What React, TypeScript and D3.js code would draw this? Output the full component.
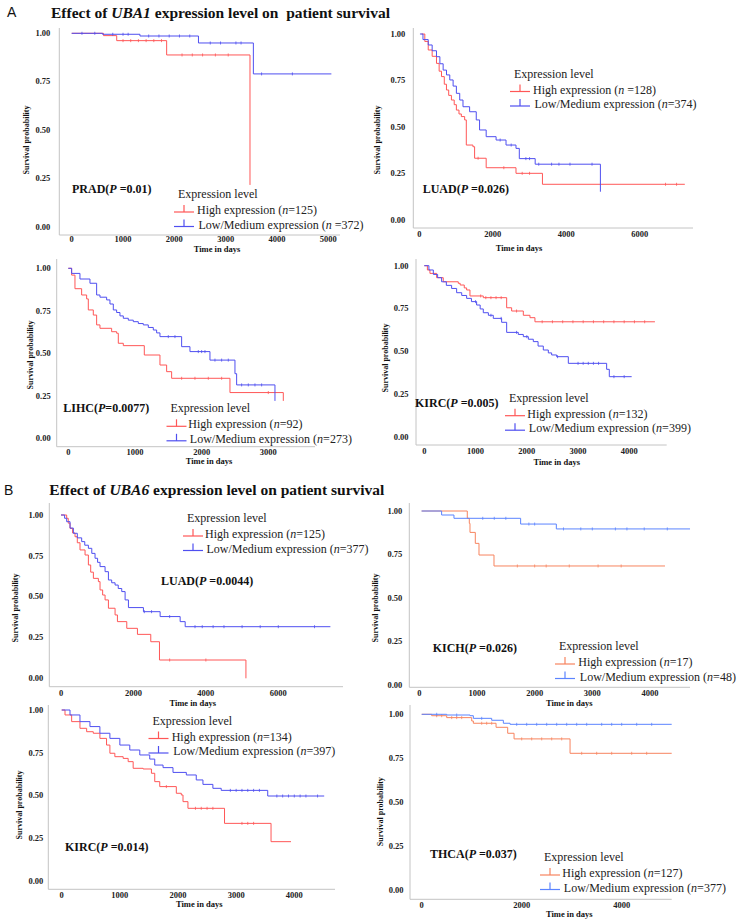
import React from "react";
import * as d3 from "d3";

type Pt = [number, number]; // [days, survival probability after the step]

// ---------- UBA1 ----------
const PRAD_HIGH: Pt[] = [[0, 1], [620, 0.988], [877, 0.962], [1850, 0.888], [3474, 0.216]];
const PRAD_LOW: Pt[] = [[0, 1], [600, 0.995], [1330, 0.986], [2470, 0.95], [3540, 0.79], [5060, 0.79]];
const PRAD_HIGH_CENS = [1000, 1150, 1300, 1450, 1600, 1750, 2150, 2350, 2550, 2800, 3050];
const PRAD_LOW_CENS = [200, 450, 800, 1000, 1100, 1500, 1700, 1900, 2100, 2300, 2700, 2900, 3200, 3300, 3700, 4300];

const LUAD1_HIGH: Pt[] = [[60, 1], [150, 0.96], [243, 0.914], [350, 0.88], [468, 0.842], [540, 0.8], [604, 0.771], [680, 0.73], [739, 0.699], [800, 0.67], [874, 0.645], [950, 0.62], [1009, 0.591], [1080, 0.57], [1144, 0.556], [1234, 0.538], [1279, 0.403], [1459, 0.394], [1505, 0.332], [1820, 0.281], [2631, 0.251], [3351, 0.192], [7225, 0.192]];
const LUAD1_LOW: Pt[] = [[18, 1], [100, 0.97], [243, 0.941], [350, 0.91], [468, 0.878], [560, 0.84], [649, 0.806], [740, 0.78], [829, 0.753], [920, 0.72], [1009, 0.681], [1100, 0.645], [1189, 0.609], [1369, 0.582], [1550, 0.538], [1640, 0.484], [1820, 0.448], [2090, 0.43], [2360, 0.403], [2631, 0.385], [2721, 0.33], [3153, 0.3], [4928, 0.152]];
const LUAD1_HIGH_CENS = [1600, 2300, 2800, 3000, 6700, 7000];
const LUAD1_LOW_CENS = [2200, 2500, 2900, 3000, 3250, 3600, 3800, 4100, 4700];

const LIHC_HIGH: Pt[] = [[0, 1], [50, 0.96], [100, 0.88], [200, 0.843], [275, 0.82], [300, 0.755], [375, 0.725], [425, 0.667], [475, 0.647], [650, 0.627], [725, 0.618], [750, 0.559], [825, 0.545], [1140, 0.49], [1375, 0.431], [1475, 0.392], [1550, 0.353], [2425, 0.269], [3225, 0.22]];
const LIHC_LOW: Pt[] = [[0, 1], [50, 0.97], [175, 0.937], [325, 0.912], [425, 0.843], [475, 0.83], [575, 0.814], [625, 0.79], [675, 0.755], [725, 0.74], [775, 0.72], [825, 0.706], [900, 0.695], [975, 0.686], [1050, 0.675], [1125, 0.667], [1200, 0.652], [1275, 0.637], [1325, 0.62], [1375, 0.598], [1700, 0.539], [1825, 0.51], [2125, 0.46], [2500, 0.38], [2525, 0.314], [3100, 0.22]];
const LIHC_HIGH_CENS = [1700, 1900, 2100, 2300, 3000];
const LIHC_LOW_CENS = [1500, 1600, 1950, 2000, 2050, 2200, 2300, 2400, 2600, 2700, 2800, 2900];

const KIRC1_HIGH: Pt[] = [[0, 1], [60, 0.975], [110, 0.955], [240, 0.93], [370, 0.906], [663, 0.897], [700, 0.887], [780, 0.87], [826, 0.858], [891, 0.823], [1151, 0.813], [1607, 0.754], [1704, 0.735], [1932, 0.71], [2062, 0.696], [2159, 0.672], [4500, 0.672]];
const KIRC1_LOW: Pt[] = [[0, 1], [90, 0.975], [176, 0.949], [260, 0.93], [338, 0.906], [430, 0.885], [533, 0.867], [631, 0.842], [730, 0.826], [826, 0.809], [920, 0.79], [1021, 0.77], [1090, 0.747], [1151, 0.725], [1250, 0.71], [1346, 0.692], [1509, 0.669], [1607, 0.61], [1834, 0.598], [1932, 0.585], [2030, 0.57], [2127, 0.556], [2220, 0.53], [2322, 0.507], [2420, 0.49], [2485, 0.478], [2582, 0.468], [2810, 0.429], [3558, 0.394], [3610, 0.351], [4046, 0.351]];
const KIRC1_HIGH_CENS = [1100, 1200, 1300, 1400, 1500, 1800, 2300, 2500, 2700, 2900, 3100, 3300, 3500, 3700, 3900, 4100, 4300];
const KIRC1_LOW_CENS = [1000, 1300, 1500, 1800, 2000, 2600, 3000, 3100, 3200, 3300, 3400, 3700, 3900];

// ---------- UBA6 ----------
const LUAD6_HIGH: Pt[] = [[0, 1], [157, 0.98], [200, 0.95], [249, 0.918], [320, 0.89], [387, 0.867], [450, 0.83], [525, 0.786], [664, 0.755], [756, 0.694], [820, 0.65], [894, 0.612], [1032, 0.592], [1078, 0.541], [1150, 0.51], [1217, 0.48], [1309, 0.429], [1493, 0.388], [1558, 0.347], [1816, 0.306], [2111, 0.269], [2479, 0.224], [2719, 0.112], [5106, 0]];
const LUAD6_LOW: Pt[] = [[0, 1], [100, 0.98], [157, 0.959], [250, 0.92], [341, 0.888], [450, 0.86], [571, 0.837], [656, 0.815], [756, 0.796], [850, 0.765], [940, 0.735], [1010, 0.71], [1078, 0.684], [1217, 0.653], [1309, 0.602], [1400, 0.585], [1493, 0.571], [1580, 0.55], [1677, 0.531], [1770, 0.48], [1862, 0.433], [2276, 0.408], [2737, 0.378], [3290, 0.347], [3429, 0.316], [7438, 0.316]];
const LUAD6_HIGH_CENS = [3000, 4000];
const LUAD6_LOW_CENS = [2300, 2500, 3000, 3700, 3900, 4200, 4500, 5000, 5500, 6000, 7000];

const KICH_HIGH: Pt[] = [[40, 1], [832, 0.958], [867, 0.929], [879, 0.877], [971, 0.814], [1035, 0.747], [1295, 0.684], [4260, 0.684]];
const KICH_LOW: Pt[] = [[40, 1], [387, 0.977], [601, 0.958], [1757, 0.925], [2376, 0.897], [4694, 0.897]];
const KICH_HIGH_CENS = [1700, 2000, 2200, 2600, 3100, 3500];
const KICH_LOW_CENS = [1100, 1300, 1500, 1900, 2000, 2500, 2800, 3000, 3400, 3600, 3900, 4300];

const KIRC6_HIGH: Pt[] = [[0, 1], [57, 0.971], [171, 0.932], [314, 0.893], [429, 0.873], [543, 0.864], [657, 0.834], [771, 0.795], [829, 0.747], [914, 0.727], [1057, 0.717], [1143, 0.698], [1229, 0.659], [1400, 0.655], [1543, 0.63], [1600, 0.581], [1686, 0.552], [1971, 0.513], [2057, 0.503], [2086, 0.464], [2171, 0.425], [2800, 0.337], [3600, 0.23], [3943, 0.23]];
const KIRC6_LOW: Pt[] = [[0, 1], [143, 0.971], [314, 0.932], [486, 0.903], [657, 0.864], [829, 0.834], [1000, 0.795], [1171, 0.766], [1343, 0.737], [1514, 0.713], [1600, 0.678], [1743, 0.663], [1914, 0.635], [2143, 0.62], [2314, 0.591], [2429, 0.565], [2600, 0.542], [2743, 0.53], [3543, 0.497], [4514, 0.497]];
const KIRC6_HIGH_CENS = [1800, 2300, 2400, 2500, 2600, 3100, 3200, 3300];
const KIRC6_LOW_CENS = [2900, 3000, 3100, 3200, 3300, 3400, 3700, 3800, 3900, 4000, 4100, 4200, 4400];

const THCA_HIGH: Pt[] = [[0, 1], [200, 0.992], [500, 0.981], [1000, 0.962], [1033, 0.949], [1487, 0.926], [1720, 0.892], [1847, 0.86], [2967, 0.778], [5000, 0.778]];
const THCA_LOW: Pt[] = [[0, 1], [500, 0.996], [967, 0.992], [1033, 0.977], [1400, 0.966], [1633, 0.949], [1767, 0.943], [5000, 0.943]];
const THCA_HIGH_CENS = [300, 400, 600, 700, 800, 1200, 1300, 1400, 2000, 2200, 2400, 2600, 2800, 3200, 3500, 3800, 4200, 4500];
const THCA_LOW_CENS = [300, 700, 1200, 1900, 2100, 2300, 2500, 2700, 2900, 3100, 3300, 3600, 3800, 4000, 4300, 4600];

const Y_TICKS = [0, 0.25, 0.5, 0.75, 1];

const SERIF = '"Liberation Serif", "Times New Roman", serif';
const SANS = '"Liberation Sans", Arial, sans-serif';
const RED_A = "#ff5757";
const BLUE_A = "#4f4ff0";
const RED_B = "#f7845f";
const BLUE_B = "#5b84ff";
const AXIS = "#c4c4c4";

interface PanelCfg {
  name: string; pRest: string;
  high: Pt[]; low: Pt[]; highCens: number[]; lowCens: number[];
  nHigh: string; nLow: string; xTicks: number[];
  red: string; blue: string;
  // layout (pixels)
  ax: number; ay: number; ar: number; at: number;
  px0: number; pxMax: number; py0: number; py1: number;
  tickGap: number; tickY: number; titleY: number; titleX: number; ylabX: number; ylabY: number;
  legX: number; legY: number; legTextX: number; pX: number; pY: number;
}

const panels: PanelCfg[] = [
  { name: "PRAD", pRest: " =0.01", high: PRAD_HIGH, low: PRAD_LOW, highCens: PRAD_HIGH_CENS, lowCens: PRAD_LOW_CENS,
    nHigh: "=125", nLow: " =372", xTicks: [0, 1000, 2000, 3000, 4000, 5000], red: RED_A, blue: BLUE_A,
    ax: 59.3, ay: 235, ar: 340, at: 28, px0: 71.7, pxMax: 328.3, py0: 226.7, py1: 33.3,
    tickGap: 9, tickY: 242.3, titleY: 252, titleX: 217, ylabX: 29, ylabY: 140,
    legX: 174, legY: 198, legTextX: 197, pX: 72, pY: 193 },
  { name: "LUAD", pRest: " =0.026", high: LUAD1_HIGH, low: LUAD1_LOW, highCens: LUAD1_HIGH_CENS, lowCens: LUAD1_LOW_CENS,
    nHigh: " =128", nLow: "=374", xTicks: [0, 2000, 4000, 6000], red: RED_A, blue: BLUE_A,
    ax: 413.3, ay: 228, ar: 693, at: 28, px0: 419.3, pxMax: 639.8, py0: 220, py1: 34,
    tickGap: 8, tickY: 237, titleY: 251, titleX: 519, ylabX: 379.5, ylabY: 140,
    legX: 510, legY: 77.5, legTextX: 533, pX: 422.7, pY: 193.3 },
  { name: "LIHC", pRest: "=0.0077", high: LIHC_HIGH, low: LIHC_LOW, highCens: LIHC_HIGH_CENS, lowCens: LIHC_LOW_CENS,
    nHigh: "=92", nLow: "=273", xTicks: [0, 1000, 2000, 3000], red: RED_A, blue: BLUE_A,
    ax: 56.7, ay: 446.7, ar: 315, at: 259, px0: 68.3, pxMax: 268.3, py0: 438.3, py1: 268.3,
    tickGap: 6, tickY: 454.5, titleY: 464, titleX: 209, ylabX: 33, ylabY: 355,
    legX: 166.5, legY: 412.3, legTextX: 188.3, pX: 63.3, pY: 412 },
  { name: "KIRC", pRest: " =0.005", high: KIRC1_HIGH, low: KIRC1_LOW, highCens: KIRC1_HIGH_CENS, lowCens: KIRC1_LOW_CENS,
    nHigh: "=132", nLow: "=399", xTicks: [0, 1000, 2000, 3000, 4000], red: RED_A, blue: BLUE_A,
    ax: 416, ay: 445, ar: 666.7, at: 259, px0: 424.3, pxMax: 629.3, py0: 436.7, py1: 265.7,
    tickGap: 7.5, tickY: 454, titleY: 465, titleX: 556.7, ylabX: 388, ylabY: 358,
    legX: 505, legY: 401.7, legTextX: 527.3, pX: 415, pY: 406.7 },
  { name: "LUAD", pRest: " =0.0044", high: LUAD6_HIGH, low: LUAD6_LOW, highCens: LUAD6_HIGH_CENS, lowCens: LUAD6_LOW_CENS,
    nHigh: "=125", nLow: "=377", xTicks: [0, 2000, 4000, 6000], red: RED_A, blue: BLUE_A,
    ax: 49.3, ay: 686.7, ar: 343, at: 503, px0: 61, pxMax: 278.3, py0: 678.3, py1: 515,
    tickGap: 6, tickY: 696, titleY: 705.5, titleX: 192.7, ylabX: 18, ylabY: 608,
    legX: 183, legY: 522, legTextX: 205, pX: 161, pY: 585 },
  { name: "KICH", pRest: " =0.026", high: KICH_HIGH, low: KICH_LOW, highCens: KICH_HIGH_CENS, lowCens: KICH_LOW_CENS,
    nHigh: "=17", nLow: "=48", xTicks: [0, 1000, 2000, 3000, 4000], red: RED_B, blue: BLUE_B,
    ax: 409.3, ay: 687.3, ar: 690, at: 503, px0: 419.3, pxMax: 650, py0: 685, py1: 511,
    tickGap: 7, tickY: 696, titleY: 705.5, titleX: 569.3, ylabX: 378, ylabY: 608,
    legX: 555, legY: 650, legTextX: 578.3, pX: 432.7, pY: 651.7 },
  { name: "KIRC", pRest: " =0.014", high: KIRC6_HIGH, low: KIRC6_LOW, highCens: KIRC6_HIGH_CENS, lowCens: KIRC6_LOW_CENS,
    nHigh: "=134", nLow: "=397", xTicks: [0, 1000, 2000, 3000, 4000], red: RED_A, blue: BLUE_A,
    ax: 48.3, ay: 889.3, ar: 335, at: 705, px0: 61.7, pxMax: 294.3, py0: 881, py1: 710,
    tickGap: 5, tickY: 897.5, titleY: 907, titleX: 199.3, ylabX: 22, ylabY: 805,
    legX: 148.5, legY: 724.5, legTextX: 171.7, pX: 65, pY: 851 },
  { name: "THCA", pRest: " =0.037", high: THCA_HIGH, low: THCA_LOW, highCens: THCA_HIGH_CENS, lowCens: THCA_LOW_CENS,
    nHigh: "=127", nLow: "=377", xTicks: [0, 2000, 4000], red: RED_B, blue: BLUE_B,
    ax: 410, ay: 899.3, ar: 671.7, at: 705, px0: 421.7, pxMax: 621.7, py0: 890, py1: 714.3,
    tickGap: 6.5, tickY: 908, titleY: 916.5, titleX: 569.3, ylabX: 383, ylabY: 811.7,
    legX: 540, legY: 861, legTextX: 562.3, pX: 430, pY: 858 },
];

const survAt = (pts: Pt[], t: number) => {
  let s = pts[0][1];
  for (const p of pts) if (p[0] <= t) s = p[1];
  return s;
};

const Panel = ({ c }: { c: PanelCfg }) => {
  const xMax = c.xTicks[c.xTicks.length - 1];
  const x = d3.scaleLinear().domain([0, xMax]).range([c.px0, c.pxMax]);
  const y = d3.scaleLinear().domain([0, 1]).range([c.py0, c.py1]);
  const line = d3.line<Pt>().x((d) => x(d[0])).y((d) => y(d[1])).curve(d3.curveStepAfter);

  const series = [
    { pts: c.high, cens: c.highCens, color: c.red, label: "High expression (", n: c.nHigh },
    { pts: c.low, cens: c.lowCens, color: c.blue, label: "Low/Medium expression (", n: c.nLow },
  ];

  return (
    <g>
      {/* axes */}
      <line x1={c.ax} x2={c.ax} y1={c.at} y2={c.ay} stroke={AXIS} strokeWidth={1} />
      <line x1={c.ax} x2={c.ar} y1={c.ay} y2={c.ay} stroke={AXIS} strokeWidth={1} />
      {Y_TICKS.map((t) => (
        <text key={t} x={c.ax - c.tickGap} y={y(t)} dy="0.33em" textAnchor="end"
          fontFamily={SERIF} fontWeight="bold" fontSize={8.5} fill="#222">
          {d3.format(".2f")(t)}
        </text>
      ))}
      {c.xTicks.map((t) => (
        <text key={t} x={x(t)} y={c.tickY} textAnchor="middle"
          fontFamily={SERIF} fontWeight="bold" fontSize={8.5} fill="#222">
          {t}
        </text>
      ))}
      <text x={c.titleX} y={c.titleY} textAnchor="middle" fontFamily={SERIF} fontWeight="bold" fontSize={8.5} fill="#111">
        Time in days
      </text>
      <text transform={`translate(${c.ylabX},${c.ylabY}) rotate(-90)`} textAnchor="middle"
        fontFamily={SERIF} fontWeight="bold" fontSize={8} fill="#111">
        Survival probability
      </text>

      {/* curves */}
      {series.map((s, i) => (
        <g key={i}>
          <path d={line(s.pts) || ""} fill="none" stroke={s.color} strokeWidth={1} />
          {s.cens
            .filter((t) => t < s.pts[s.pts.length - 1][0])
            .map((t) => (
              <line key={t} x1={x(t)} x2={x(t)} y1={y(survAt(s.pts, t)) - 1.5} y2={y(survAt(s.pts, t)) + 1.5}
                stroke={s.color} strokeWidth={0.8} />
            ))}
        </g>
      ))}

      {/* P value label */}
      <text x={c.pX} y={c.pY} fontFamily={SERIF} fontWeight="bold" fontSize={12} fill="#111" style={{ whiteSpace: "pre" }}>
        {c.name}(<tspan fontStyle="italic">P</tspan>{c.pRest})
      </text>

      {/* legend */}
      <text x={c.legX + 4} y={c.legY} fontFamily={SERIF} fontSize={12} fill="#222">
        Expression level
      </text>
      {series.map((s, i) => {
        const ly = c.legY + 14 + i * 14.5;
        const mid = c.legX + 10;
        return (
          <g key={i}>
            <line x1={c.legX} x2={c.legX + 20} y1={ly} y2={ly} stroke={s.color} strokeWidth={1.2} />
            <line x1={mid} x2={mid} y1={ly} y2={ly - 7} stroke={s.color} strokeWidth={1.2} />
            <text x={c.legTextX + (i === 1 ? 1.5 : 0)} y={ly + 2} fontFamily={SERIF} fontSize={12} fill="#222"
              style={{ whiteSpace: "pre" }}>
              {s.label}<tspan fontStyle="italic">n</tspan>{s.n})
            </text>
          </g>
        );
      })}
    </g>
  );
};

export default function App() {
  return (
    <svg width={743} height={924} style={{ position: "absolute", left: 0, top: 0, background: "#fff" }}>
      <text x={7} y={17} fontFamily={SANS} fontSize={14} fill="#111">A</text>
      <text x={51} y={17.5} fontFamily={SERIF} fontWeight="bold" fontSize={15.5} fill="#111" style={{ whiteSpace: "pre" }}>
        Effect of <tspan fontStyle="italic">UBA1</tspan> expression level on  patient survival
      </text>
      <text x={4} y={494.5} fontFamily={SANS} fontSize={14} fill="#111">B</text>
      <text x={49.3} y={495} fontFamily={SERIF} fontWeight="bold" fontSize={15.5} fill="#111">
        Effect of <tspan fontStyle="italic">UBA6</tspan> expression level on patient survival
      </text>
      {panels.map((c, i) => (
        <Panel key={i} c={c} />
      ))}
    </svg>
  );
}
